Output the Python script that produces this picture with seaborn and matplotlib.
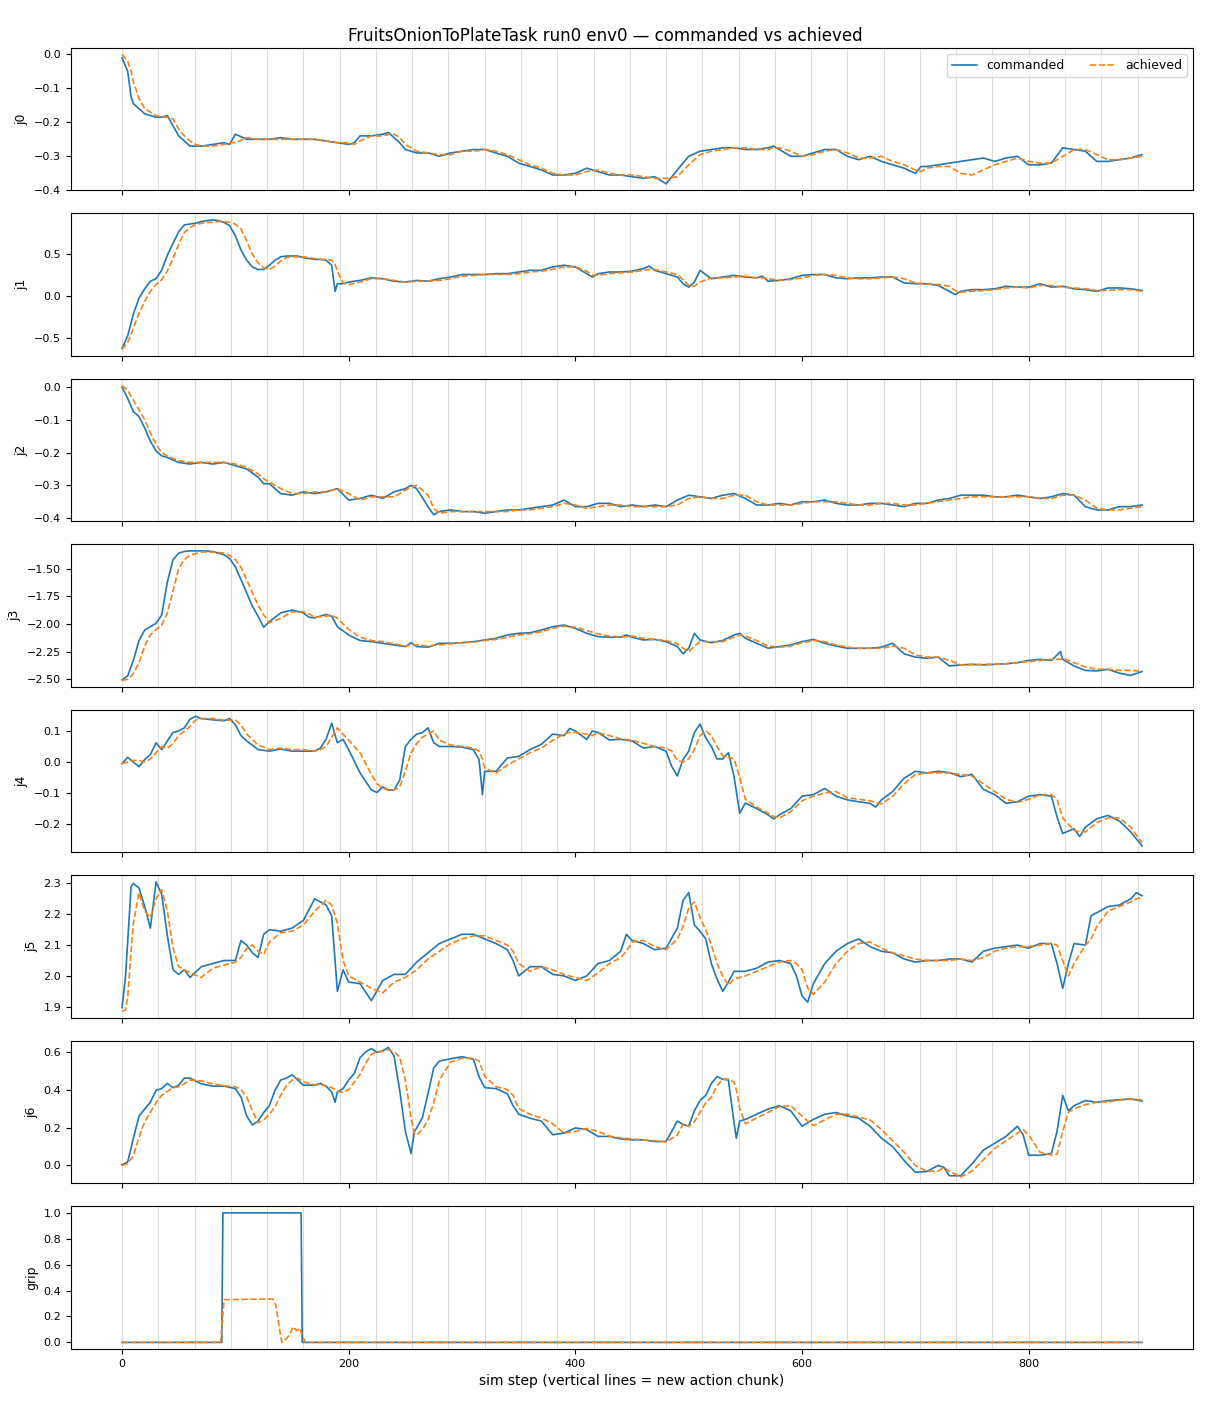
"""
Commanded vs achieved joint targets for one rollout (FruitsOnionToPlateTask, run0, env0).
Values read off the reference figure; vertical lines mark the start of each action chunk.
"""

import matplotlib

matplotlib.use("Agg")
import matplotlib.pyplot as plt
import seaborn as sns

TITLE = "FruitsOnionToPlateTask run0 env0 \u2014 commanded vs achieved"
XLABEL = "sim step (vertical lines = new action chunk)"
CHUNK_LEN = 32
LAST_STEP = 900

# ── j0 ───────────────────────────────────────────────────────────────────────
J0_STEP = [0, 5, 8, 10, 15, 20, 25, 30, 35, 40, 45, 50, 55, 60, 65, 70, 80, 90, 95, 100,
           110, 120, 130, 140, 150, 160, 170, 180, 190, 200, 205, 210, 220, 230, 235, 240, 245, 250,
           260, 270, 280, 290, 300, 310, 320, 330, 340, 350, 360, 370, 380, 390, 400, 410, 420, 430,
           440, 450, 460, 470, 480, 490, 500, 510, 520, 530, 540, 550, 560, 570, 575, 580, 590, 600,
           610, 620, 630, 640, 650, 660, 670, 680, 690, 700, 705, 710, 720, 730, 740, 750, 760, 770,
           780, 790, 800, 810, 820, 830, 840, 850, 860, 870, 880, 890, 900]
J0_CMD = [-0.010, -0.05, -0.125, -0.145, -0.16, -0.175, -0.18, -0.185, -0.185, -0.18, -0.21, -0.24, -0.255, -0.27, -0.27, -0.27, -0.265, -0.26, -0.265, -0.235,
          -0.25, -0.25, -0.25, -0.245, -0.25, -0.25, -0.25, -0.255, -0.26, -0.265, -0.26, -0.24, -0.24, -0.235, -0.23, -0.245, -0.26, -0.28,
          -0.29, -0.29, -0.30, -0.29, -0.285, -0.28, -0.28, -0.29, -0.30, -0.32, -0.33, -0.34, -0.355, -0.355, -0.35, -0.335, -0.345, -0.355,
          -0.355, -0.36, -0.365, -0.36, -0.381, -0.34, -0.30, -0.285, -0.28, -0.275, -0.275, -0.28, -0.28, -0.275, -0.27, -0.28, -0.30, -0.30,
          -0.29, -0.28, -0.28, -0.30, -0.31, -0.30, -0.315, -0.325, -0.335, -0.35, -0.33, -0.33, -0.325, -0.32, -0.315, -0.31, -0.305, -0.315,
          -0.305, -0.30, -0.325, -0.325, -0.32, -0.275, -0.28, -0.285, -0.315, -0.315, -0.31, -0.305, -0.295]
J0_ACH = [0.0, -0.02, -0.05, -0.08, -0.13, -0.16, -0.17, -0.18, -0.185, -0.185, -0.19, -0.22, -0.24, -0.255, -0.265, -0.27, -0.27, -0.265, -0.26, -0.26,
          -0.245, -0.25, -0.25, -0.25, -0.25, -0.25, -0.25, -0.255, -0.26, -0.26, -0.265, -0.255, -0.24, -0.24, -0.235, -0.235, -0.245, -0.265,
          -0.285, -0.29, -0.295, -0.295, -0.285, -0.285, -0.28, -0.285, -0.295, -0.31, -0.325, -0.335, -0.35, -0.355, -0.355, -0.345, -0.34, -0.35,
          -0.355, -0.355, -0.36, -0.365, -0.365, -0.36, -0.325, -0.295, -0.285, -0.28, -0.275, -0.275, -0.28, -0.28, -0.275, -0.275, -0.285, -0.30,
          -0.295, -0.285, -0.28, -0.29, -0.305, -0.305, -0.30, -0.315, -0.325, -0.34, -0.345, -0.335, -0.33, -0.33, -0.35, -0.355, -0.34, -0.325,
          -0.315, -0.305, -0.315, -0.32, -0.32, -0.30, -0.28, -0.28, -0.295, -0.31, -0.31, -0.305, -0.30]

# ── j1 ───────────────────────────────────────────────────────────────────────
J1_STEP = [0, 5, 10, 15, 20, 25, 30, 35, 40, 45, 50, 55, 60, 65, 70, 75, 80, 85, 90,
           95, 100, 105, 110, 115, 120, 125, 130, 135, 140, 145, 150, 155, 160, 165, 170, 175, 180, 185,
           188, 190, 195, 200,
           210, 220, 230, 240, 250, 260, 270, 280, 290, 300, 310, 320, 330, 340, 350, 360, 370, 380, 390, 400, 410,
           415, 420, 430, 440, 450, 460, 465, 470, 480, 490, 495, 500, 505, 510,
           520, 530, 540, 550, 560, 565, 570,
           580, 590, 600, 610, 620, 630, 640, 650, 660, 670, 680, 690, 700, 710, 720, 730,
           735, 740,
           750, 760, 770, 780, 790, 800, 810, 820, 830, 840, 850, 860, 870, 880, 890, 900]
J1_CMD = [-0.62, -0.47, -0.21, -0.02, 0.09, 0.18, 0.21, 0.31, 0.49, 0.63, 0.77, 0.85, 0.86, 0.87, 0.89, 0.90, 0.91, 0.90, 0.88,
          0.84, 0.72, 0.55, 0.43, 0.35, 0.32, 0.32, 0.37, 0.43, 0.47, 0.48, 0.48, 0.48, 0.46, 0.45, 0.44, 0.44, 0.43, 0.37,
          0.06, 0.15, 0.15, 0.17,
          0.19, 0.22, 0.21, 0.18, 0.17, 0.19, 0.18, 0.21, 0.23, 0.26, 0.26, 0.26, 0.27, 0.27, 0.29, 0.31, 0.31, 0.35, 0.37, 0.35, 0.27,
          0.23, 0.27, 0.29, 0.29, 0.30, 0.33, 0.36, 0.31, 0.27, 0.23, 0.15, 0.11, 0.17, 0.31,
          0.21, 0.23, 0.25, 0.23, 0.22, 0.24, 0.18,
          0.19, 0.21, 0.25, 0.26, 0.26, 0.22, 0.21, 0.22, 0.22, 0.23, 0.23, 0.16, 0.15, 0.15, 0.13, 0.06,
          0.02, 0.06,
          0.08, 0.08, 0.09, 0.12, 0.11, 0.11, 0.15, 0.11, 0.12, 0.09, 0.08, 0.06, 0.10, 0.10, 0.09, 0.07]
J1_ACH = [-0.63, -0.55, -0.38, -0.20, -0.06, 0.06, 0.14, 0.20, 0.30, 0.45, 0.62, 0.76, 0.82, 0.85, 0.87, 0.88, 0.88, 0.89, 0.89,
          0.88, 0.86, 0.80, 0.66, 0.50, 0.40, 0.34, 0.32, 0.36, 0.42, 0.46, 0.47, 0.47, 0.47, 0.46, 0.45, 0.44, 0.44, 0.43,
          0.38, 0.30, 0.16, 0.14,
          0.17, 0.21, 0.21, 0.19, 0.17, 0.18, 0.18, 0.19, 0.21, 0.24, 0.25, 0.26, 0.26, 0.26, 0.27, 0.29, 0.30, 0.32, 0.35, 0.35, 0.30,
          0.25, 0.25, 0.27, 0.28, 0.29, 0.31, 0.32, 0.32, 0.29, 0.26, 0.20, 0.13, 0.12, 0.17,
          0.22, 0.22, 0.23, 0.24, 0.22, 0.22, 0.21,
          0.19, 0.20, 0.22, 0.25, 0.26, 0.25, 0.22, 0.21, 0.21, 0.22, 0.23, 0.21, 0.16, 0.15, 0.14, 0.12,
          0.07, 0.05,
          0.06, 0.07, 0.08, 0.10, 0.11, 0.10, 0.13, 0.13, 0.11, 0.10, 0.09, 0.07, 0.07, 0.08, 0.08, 0.06]

# ── j2 ───────────────────────────────────────────────────────────────────────
J2_STEP = [0, 5, 10, 15, 20, 25, 30, 35, 40,
           50, 60, 70, 80, 90, 100, 110, 120, 125, 130,
           140, 150, 160, 170, 180, 190, 200, 210, 220, 230, 240, 250, 255, 260, 270, 275, 280,
           290, 300, 310, 320, 330, 340, 350, 360, 370, 380, 390, 400, 410, 420, 430, 440, 450, 460, 470, 480,
           490, 500, 510, 520, 530, 540, 550, 560, 570, 580, 590, 600, 610, 620, 630, 640, 650, 660, 670, 680,
           690, 700, 710, 720, 730, 740, 750, 760, 770, 780, 790, 800, 810, 820, 830, 840, 850, 860, 870, 880,
           890, 900]
J2_CMD = [0.0, -0.035, -0.075, -0.09, -0.125, -0.165, -0.195, -0.21, -0.215,
          -0.23, -0.235, -0.23, -0.235, -0.23, -0.24, -0.25, -0.275, -0.295, -0.295,
          -0.325, -0.33, -0.32, -0.325, -0.32, -0.31, -0.345, -0.34, -0.33, -0.34, -0.32, -0.31, -0.30, -0.31, -0.365, -0.39, -0.38,
          -0.375, -0.38, -0.38, -0.385, -0.38, -0.375, -0.375, -0.37, -0.365, -0.36, -0.345, -0.365, -0.365, -0.355, -0.355, -0.365, -0.36, -0.365, -0.36, -0.365,
          -0.345, -0.33, -0.335, -0.34, -0.33, -0.325, -0.34, -0.36, -0.36, -0.355, -0.36, -0.35, -0.35, -0.345, -0.355, -0.36, -0.36, -0.355, -0.355, -0.36,
          -0.365, -0.355, -0.355, -0.345, -0.34, -0.33, -0.33, -0.33, -0.335, -0.335, -0.33, -0.335, -0.34, -0.335, -0.325, -0.33, -0.365, -0.375, -0.375, -0.365,
          -0.365, -0.36]
J2_ACH = [0.005, -0.01, -0.04, -0.07, -0.10, -0.14, -0.175, -0.20, -0.21,
          -0.225, -0.23, -0.23, -0.23, -0.23, -0.235, -0.245, -0.265, -0.28, -0.29,
          -0.31, -0.325, -0.325, -0.32, -0.32, -0.31, -0.325, -0.345, -0.335, -0.335, -0.335, -0.315, -0.305, -0.30, -0.33, -0.37, -0.385,
          -0.38, -0.38, -0.38, -0.38, -0.38, -0.38, -0.375, -0.375, -0.37, -0.365, -0.355, -0.36, -0.37, -0.365, -0.36, -0.36, -0.365, -0.365, -0.365, -0.365,
          -0.36, -0.34, -0.335, -0.34, -0.34, -0.33, -0.33, -0.35, -0.36, -0.36, -0.36, -0.355, -0.35, -0.35, -0.35, -0.355, -0.36, -0.36, -0.355, -0.355,
          -0.36, -0.36, -0.355, -0.35, -0.345, -0.34, -0.335, -0.335, -0.335, -0.335, -0.335, -0.335, -0.34, -0.34, -0.33, -0.33, -0.345, -0.37, -0.375, -0.375,
          -0.37, -0.365]

# ── j3 ───────────────────────────────────────────────────────────────────────
J3_STEP = [0, 5, 10, 15, 20, 25, 30, 35, 40, 45, 50, 55, 60, 70, 80, 90,
           95, 100, 105, 110, 115, 120, 125, 130, 140, 150, 160, 165, 170, 180, 185, 190,
           200, 210, 220, 230, 240, 250, 255, 260, 270, 280, 290, 300, 310, 320, 330, 340, 350, 360,
           370, 380, 390, 400, 410, 420, 430, 440, 445, 450, 460, 470, 480, 490, 495, 500, 505, 510,
           520, 530, 540, 545, 550, 560, 570, 580, 590, 600, 610, 620, 630, 640, 650, 660, 670, 680,
           690, 700, 710, 720, 730, 740, 750, 760, 770, 780, 790, 800, 810, 820, 828, 830, 840, 850,
           860, 870, 880, 890, 900]
J3_CMD = [-2.505, -2.47, -2.33, -2.15, -2.055, -2.025, -1.995, -1.92, -1.62, -1.42, -1.36, -1.345, -1.34, -1.34, -1.345, -1.375,
          -1.41, -1.485, -1.60, -1.72, -1.84, -1.93, -2.03, -1.98, -1.90, -1.875, -1.90, -1.94, -1.945, -1.915, -1.93, -2.025,
          -2.10, -2.15, -2.16, -2.175, -2.19, -2.205, -2.17, -2.205, -2.21, -2.175, -2.175, -2.17, -2.16, -2.145, -2.13, -2.10, -2.085, -2.08,
          -2.055, -2.025, -2.01, -2.04, -2.085, -2.115, -2.12, -2.12, -2.10, -2.12, -2.145, -2.14, -2.16, -2.205, -2.27, -2.22, -2.085, -2.145,
          -2.17, -2.15, -2.10, -2.085, -2.13, -2.175, -2.22, -2.205, -2.19, -2.16, -2.14, -2.175, -2.20, -2.22, -2.22, -2.22, -2.21, -2.175,
          -2.27, -2.30, -2.31, -2.30, -2.38, -2.37, -2.365, -2.37, -2.365, -2.36, -2.35, -2.33, -2.32, -2.33, -2.25, -2.32, -2.38, -2.42,
          -2.425, -2.41, -2.445, -2.465, -2.43]
J3_ACH = [-2.51, -2.50, -2.45, -2.35, -2.20, -2.10, -2.05, -2.01, -1.90, -1.70, -1.50, -1.42, -1.38, -1.35, -1.35, -1.36,
          -1.38, -1.42, -1.49, -1.60, -1.72, -1.83, -1.92, -1.99, -1.95, -1.89, -1.89, -1.91, -1.94, -1.93, -1.92, -1.95,
          -2.05, -2.12, -2.15, -2.16, -2.18, -2.20, -2.19, -2.19, -2.20, -2.19, -2.18, -2.17, -2.165, -2.15, -2.14, -2.12, -2.10, -2.09,
          -2.07, -2.04, -2.02, -2.03, -2.06, -2.09, -2.11, -2.12, -2.115, -2.11, -2.13, -2.14, -2.15, -2.18, -2.22, -2.25, -2.20, -2.16,
          -2.16, -2.16, -2.12, -2.10, -2.11, -2.15, -2.20, -2.21, -2.20, -2.17, -2.15, -2.16, -2.19, -2.21, -2.22, -2.22, -2.22, -2.20,
          -2.22, -2.28, -2.30, -2.30, -2.33, -2.37, -2.37, -2.365, -2.365, -2.36, -2.35, -2.34, -2.33, -2.32, -2.32, -2.31, -2.35, -2.39,
          -2.41, -2.41, -2.42, -2.42, -2.43]

# ── j4 ───────────────────────────────────────────────────────────────────────
J4_STEP = [0, 5, 10, 15, 20, 25, 30, 35, 40, 45, 50, 55, 60, 65, 70,
           80, 90, 95, 100, 105, 110, 120, 130, 140, 150, 160, 170,
           175, 180, 185, 190, 195, 200, 210, 220, 225, 230, 235, 240, 245, 250, 255, 260, 265, 270, 275, 280,
           290, 300, 310, 315, 318, 320, 330, 340, 350, 360, 370, 380, 390,
           395, 400, 410, 415, 420, 430, 440, 450, 460, 470, 480,
           485, 490, 495, 500, 505, 510, 515, 520, 525, 530, 535, 540, 545, 550,
           560, 570, 575, 580, 590, 600, 610, 620, 630, 640, 650, 660, 665, 670,
           680, 690, 700, 710, 720, 730, 740, 750, 760, 770, 780, 790, 800, 810, 820,
           825, 830, 840, 845, 850, 860, 870, 880, 890, 900]
J4_CMD = [-0.005, 0.015, 0.0, -0.015, 0.008, 0.024, 0.062, 0.04, 0.068, 0.095, 0.10, 0.11, 0.138, 0.147, 0.14,
          0.136, 0.133, 0.14, 0.12, 0.085, 0.068, 0.04, 0.035, 0.042, 0.035, 0.035, 0.035,
          0.045, 0.073, 0.125, 0.062, 0.073, 0.04, -0.035, -0.09, -0.098, -0.08, -0.09, -0.09, -0.058, 0.05, 0.073, 0.09, 0.095, 0.11, 0.062, 0.05,
          0.05, 0.048, 0.04, 0.008, -0.105, -0.03, -0.03, 0.013, 0.018, 0.04, 0.057, 0.09, 0.085,
          0.108, 0.10, 0.073, 0.10, 0.095, 0.071, 0.073, 0.068, 0.045, 0.05, 0.035,
          -0.014, -0.045, 0.008, 0.035, 0.095, 0.122, 0.078, 0.05, 0.01, 0.01, 0.03, -0.047, -0.165, -0.132,
          -0.15, -0.17, -0.183, -0.17, -0.15, -0.11, -0.105, -0.085, -0.11, -0.122, -0.128, -0.133, -0.145, -0.122,
          -0.095, -0.052, -0.03, -0.035, -0.03, -0.034, -0.047, -0.04, -0.088, -0.105, -0.133, -0.128, -0.11, -0.105, -0.11,
          -0.177, -0.23, -0.215, -0.24, -0.21, -0.183, -0.172, -0.19, -0.225, -0.27]
J4_ACH = [-0.005, 0.0, 0.005, 0.005, 0.0, 0.01, 0.03, 0.05, 0.045, 0.06, 0.085, 0.10, 0.115, 0.135, 0.14,
          0.14, 0.135, 0.135, 0.135, 0.12, 0.09, 0.055, 0.04, 0.045, 0.04, 0.04, 0.035,
          0.04, 0.05, 0.08, 0.11, 0.09, 0.07, 0.03, -0.04, -0.07, -0.085, -0.09, -0.09, -0.08, -0.03, 0.03, 0.06, 0.08, 0.09, 0.10, 0.07,
          0.055, 0.05, 0.045, 0.035, 0.01, -0.02, -0.035, -0.01, 0.01, 0.03, 0.045, 0.07, 0.09,
          0.095, 0.095, 0.09, 0.085, 0.095, 0.085, 0.075, 0.07, 0.06, 0.05, 0.045,
          0.035, 0.005, 0.0, 0.01, 0.04, 0.085, 0.10, 0.085, 0.05, 0.02, 0.015, 0.01, -0.05, -0.12,
          -0.145, -0.165, -0.175, -0.18, -0.16, -0.125, -0.11, -0.10, -0.095, -0.115, -0.12, -0.125, -0.13, -0.135,
          -0.11, -0.07, -0.04, -0.035, -0.035, -0.035, -0.04, -0.045, -0.07, -0.095, -0.12, -0.13, -0.12, -0.105, -0.105,
          -0.12, -0.18, -0.22, -0.225, -0.225, -0.195, -0.18, -0.18, -0.21, -0.26]

# ── j5 ───────────────────────────────────────────────────────────────────────
J5_STEP = [0, 3, 5, 8, 10, 15, 20, 25, 30, 35, 40, 45, 50, 55, 60,
           70, 80, 90, 100, 105, 110, 115, 120, 125, 130, 140, 150, 160, 170, 180,
           185, 190, 195, 200, 210, 220, 230, 240, 250, 260, 270, 280, 290, 300, 310, 320, 330, 340,
           345, 350, 360, 370, 380, 390, 400, 410, 420, 430, 440, 445, 450, 460, 470, 480, 490,
           495, 500, 505, 510, 515, 520, 525, 530, 535, 540, 550, 560, 570, 580, 590,
           595, 600, 605, 610, 620, 630, 640, 650, 660, 670, 680, 690, 700, 710, 720, 730, 740, 750,
           760, 770, 780, 790, 800, 810, 820, 825, 830, 835, 840, 850, 855, 860, 870, 880, 890, 895, 900]
J5_CMD = [1.897, 1.995, 2.11, 2.29, 2.30, 2.285, 2.225, 2.155, 2.305, 2.265, 2.13, 2.02, 2.005, 2.02, 1.995,
          2.03, 2.04, 2.05, 2.05, 2.115, 2.10, 2.075, 2.06, 2.135, 2.15, 2.145, 2.155, 2.18, 2.25, 2.23,
          2.195, 1.95, 2.02, 1.98, 1.975, 1.92, 1.985, 2.005, 2.005, 2.045, 2.075, 2.105, 2.12, 2.135, 2.135, 2.12, 2.105, 2.085,
          2.05, 2.0, 2.03, 2.03, 2.005, 2.0, 1.985, 2.0, 2.04, 2.05, 2.08, 2.135, 2.115, 2.105, 2.085, 2.09, 2.155,
          2.245, 2.27, 2.165, 2.145, 2.12, 2.04, 1.99, 1.95, 1.98, 2.015, 2.015, 2.025, 2.045, 2.05, 2.04,
          2.0, 1.935, 1.915, 1.975, 2.04, 2.08, 2.105, 2.12, 2.095, 2.08, 2.075, 2.055, 2.045, 2.05, 2.05, 2.055, 2.055, 2.045,
          2.08, 2.09, 2.095, 2.10, 2.09, 2.105, 2.105, 2.04, 1.96, 2.04, 2.105, 2.10, 2.195, 2.205, 2.225, 2.23, 2.25, 2.27, 2.26]
J5_ACH = [1.885, 1.89, 1.93, 2.08, 2.17, 2.27, 2.21, 2.19, 2.25, 2.28, 2.21, 2.09, 2.03, 2.02, 2.01,
          1.995, 2.025, 2.035, 2.045, 2.06, 2.09, 2.10, 2.08, 2.07, 2.11, 2.14, 2.145, 2.165, 2.21, 2.245,
          2.23, 2.17, 2.05, 2.00, 1.98, 1.96, 1.945, 1.98, 1.995, 2.02, 2.055, 2.08, 2.105, 2.12, 2.13, 2.13, 2.115, 2.10,
          2.08, 2.04, 2.015, 2.03, 2.02, 2.005, 1.995, 1.985, 2.01, 2.04, 2.06, 2.08, 2.11, 2.115, 2.095, 2.085, 2.12,
          2.16, 2.22, 2.24, 2.19, 2.15, 2.10, 2.04, 2.0, 1.97, 1.99, 2.0, 2.015, 2.03, 2.045, 2.05,
          2.04, 2.02, 1.96, 1.94, 1.98, 2.04, 2.08, 2.105, 2.11, 2.09, 2.075, 2.065, 2.055, 2.05, 2.05, 2.05, 2.055, 2.05,
          2.06, 2.08, 2.09, 2.095, 2.095, 2.10, 2.105, 2.10, 2.05, 2.0, 2.04, 2.10, 2.12, 2.16, 2.21, 2.225, 2.24, 2.25, 2.255]

# ── j6 ───────────────────────────────────────────────────────────────────────
J6_STEP = [0, 5, 10, 15, 20, 25, 30, 35, 40, 45, 50, 55, 60, 70, 80, 90, 100,
           105, 110, 115, 120, 125, 130, 135, 140, 145, 150, 155, 160,
           170, 175, 180, 185, 188, 190, 195, 200, 205, 210, 215, 220, 225, 230, 235, 240, 245, 250,
           255, 258, 260, 265, 270, 275, 280, 290, 300, 310, 315, 320, 330, 340, 345, 350,
           360, 370, 380, 390, 400, 410, 420, 430, 440, 450, 460, 470, 480,
           490, 495, 500, 505, 510, 515, 520, 525, 530, 535, 540, 542, 545, 550,
           560, 570, 580, 590, 600, 610, 620, 630, 640, 650, 660, 670, 680, 690, 700, 710, 720,
           725, 730, 740, 750, 760, 770, 780, 790, 795, 800, 810, 820, 825, 830, 835, 840,
           850, 860, 870, 880, 890, 900]
J6_CMD = [0.004, 0.018, 0.144, 0.26, 0.297, 0.333, 0.396, 0.405, 0.432, 0.41, 0.423, 0.46, 0.46, 0.43, 0.418, 0.418, 0.405,
          0.36, 0.26, 0.213, 0.234, 0.279, 0.315, 0.396, 0.45, 0.46, 0.478, 0.45, 0.423,
          0.423, 0.432, 0.418, 0.387, 0.333, 0.387, 0.405, 0.45, 0.486, 0.568, 0.598, 0.616, 0.595, 0.604, 0.622, 0.577, 0.396, 0.18,
          0.063, 0.18, 0.198, 0.252, 0.378, 0.514, 0.55, 0.562, 0.573, 0.559, 0.468, 0.41, 0.405, 0.378, 0.315, 0.27,
          0.249, 0.234, 0.162, 0.171, 0.198, 0.189, 0.153, 0.153, 0.14, 0.135, 0.135, 0.126, 0.126,
          0.234, 0.216, 0.207, 0.288, 0.342, 0.369, 0.432, 0.468, 0.454, 0.45, 0.225, 0.144, 0.234, 0.243,
          0.27, 0.297, 0.315, 0.288, 0.207, 0.243, 0.27, 0.279, 0.261, 0.249, 0.207, 0.144, 0.099, 0.027, -0.036, -0.032, 0.0,
          -0.009, -0.054, -0.054, 0.009, 0.081, 0.117, 0.153, 0.207, 0.162, 0.054, 0.054, 0.063, 0.18, 0.369, 0.288, 0.315,
          0.342, 0.333, 0.342, 0.346, 0.351, 0.339]
J6_ACH = [0.0, 0.01, 0.05, 0.15, 0.23, 0.28, 0.33, 0.37, 0.39, 0.41, 0.415, 0.43, 0.45, 0.445, 0.43, 0.42, 0.415,
          0.40, 0.36, 0.29, 0.225, 0.24, 0.27, 0.31, 0.37, 0.42, 0.45, 0.46, 0.44,
          0.425, 0.425, 0.42, 0.41, 0.40, 0.39, 0.385, 0.40, 0.44, 0.48, 0.54, 0.585, 0.60, 0.60, 0.61, 0.60, 0.57, 0.45,
          0.25, 0.17, 0.16, 0.19, 0.24, 0.33, 0.45, 0.545, 0.565, 0.565, 0.55, 0.47, 0.415, 0.40, 0.37, 0.30,
          0.27, 0.25, 0.22, 0.17, 0.18, 0.195, 0.18, 0.155, 0.145, 0.14, 0.135, 0.13, 0.125,
          0.16, 0.22, 0.205, 0.23, 0.28, 0.33, 0.36, 0.42, 0.455, 0.455, 0.44, 0.40, 0.30, 0.22,
          0.25, 0.28, 0.31, 0.315, 0.26, 0.21, 0.24, 0.27, 0.27, 0.255, 0.24, 0.19, 0.13, 0.07, 0.0, -0.03, -0.03,
          -0.01, -0.03, -0.06, -0.03, 0.03, 0.09, 0.13, 0.17, 0.19, 0.16, 0.07, 0.055, 0.06, 0.18, 0.28, 0.30,
          0.32, 0.335, 0.335, 0.345, 0.35, 0.345]

# ── gripper ──────────────────────────────────────────────────────────────────
GRIP_CMD_STEP = [0, 88, 89, 158, 159, 900]
GRIP_CMD = [0.0, 0.0, 1.0, 1.0, 0.0, 0.0]
GRIP_ACH_STEP = [0, 87, 90, 133, 136, 138, 141, 144, 148, 151, 154, 157, 159, 162, 900]
GRIP_ACH = [0.0, 0.0, 0.33, 0.335, 0.28, 0.15, 0.0, 0.02, 0.06, 0.12, 0.09, 0.11, 0.05, 0.0, 0.0]

PANELS = [
    ("j0", J0_STEP, J0_CMD, J0_STEP, J0_ACH),
    ("j1", J1_STEP, J1_CMD, J1_STEP, J1_ACH),
    ("j2", J2_STEP, J2_CMD, J2_STEP, J2_ACH),
    ("j3", J3_STEP, J3_CMD, J3_STEP, J3_ACH),
    ("j4", J4_STEP, J4_CMD, J4_STEP, J4_ACH),
    ("j5", J5_STEP, J5_CMD, J5_STEP, J5_ACH),
    ("j6", J6_STEP, J6_CMD, J6_STEP, J6_ACH),
    ("grip", GRIP_CMD_STEP, GRIP_CMD, GRIP_ACH_STEP, GRIP_ACH),
]

for name, xs_c, ys_c, xs_a, ys_a in PANELS:
    if len(xs_c) != len(ys_c) or len(xs_a) != len(ys_a):
        raise ValueError(f"{name}: {len(xs_c)}/{len(ys_c)} {len(xs_a)}/{len(ys_a)}")

chunk_starts = list(range(0, LAST_STEP, CHUNK_LEN))

# ── Plot ──────────────────────────────────────────────────────────────────────
fig, axes = plt.subplots(len(PANELS), 1, figsize=(12.1, 14.08), sharex=True)
fig.subplots_adjust(left=0.0587, right=0.986, top=0.966, bottom=0.042, hspace=0.162)

for ax, (name, xs_c, ys_c, xs_a, ys_a) in zip(axes, PANELS):
    for x0 in chunk_starts:
        ax.axvline(x0, color="0.86", lw=0.8, zorder=0)
    sns.lineplot(x=xs_c, y=ys_c, ax=ax, color="tab:blue", lw=1.2,
                 label="commanded", legend=False)
    sns.lineplot(x=xs_a, y=ys_a, ax=ax, color="tab:orange", lw=1.2, linestyle="--",
                 label="achieved", legend=False)
    ax.set_ylabel(name, fontsize=9)
    ax.tick_params(axis="both", labelsize=8)

axes[0].legend(loc="upper right", ncol=2, fontsize=9)
axes[-1].set_xlabel(XLABEL, fontsize=10)
fig.suptitle(TITLE, fontsize=12, y=0.981)

fig.savefig("out.png", dpi=100)
print("Saved -> out.png")
